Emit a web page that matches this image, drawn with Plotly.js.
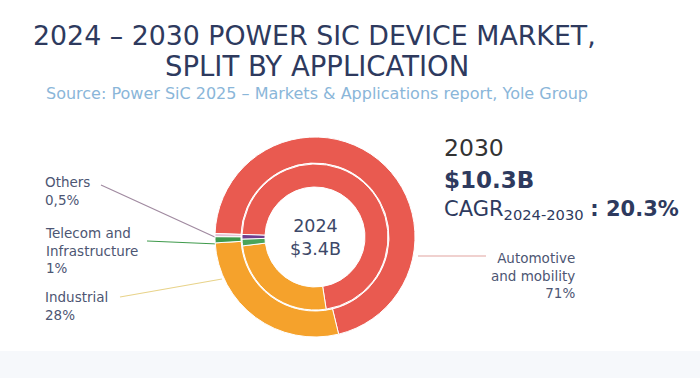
<!DOCTYPE html>
<html><head><meta charset="utf-8">
<script src="https://cdn.plot.ly/plotly-3.0.1.min.js"></script>
<style>html,body{margin:0;padding:0;background:#fff;}</style>
</head><body><div id="chart" style="width:700px;height:378px;"></div>
<script>
var categories = ['Automotive and mobility', 'Industrial', 'Telecom and Infrastructure', 'Others'];
var share2030 = [71, 28, 1, 0.5];
var share2024 = [72, 25.5, 1.5, 1];
var labels2030 = ['Automotive<br>and mobility<br>71%', 'Industrial<br>28%', 'Telecom and<br>Infrastructure<br>1%', 'Others<br>0,5%'];
var outerColors = ['#e95a50', '#f5a22c', '#3f9a4c', '#e4c4d6'];
var innerColors = ['#e95a50', '#f5a22c', '#4aa45a', '#6e3d8e'];

var W = 700, H = 378;
function px(x){return x/W;}
function py(y){return (H-y)/H;}
var cx = 315, cy = 237;

var traces = [
 {type:'pie', values:share2030, labels:categories, sort:false, direction:'clockwise', rotation:-88,
  hole:0.74, textinfo:'none', hoverinfo:'label+percent', showlegend:false,
  marker:{colors:outerColors, line:{color:'#ffffff', width:1}},
  domain:{x:[px(cx-100), px(cx+100)], y:[py(cy+100), py(cy-100)]}},
 {type:'pie', values:share2024, labels:categories, sort:false, direction:'clockwise', rotation:-88,
  hole:0.685, textinfo:'none', hoverinfo:'label+percent', showlegend:false,
  marker:{colors:innerColors, line:{color:'#ffffff', width:1}},
  domain:{x:[px(cx-73), px(cx+73)], y:[py(cy+73), py(cy-73)]}}
];

var navy = '#2e3a5e';
var labelColor = '#4d5673';
var F = 'DejaVu Sans';
function ann(x, y, text, size, color, xanchor, extra){
  var a = {xref:'paper', yref:'paper', x:px(x), y:py(y), text:text, showarrow:false,
    xanchor:xanchor||'center', yanchor:'middle', font:{family:F, size:size, color:color}};
  if(extra){for(var k in extra) a[k]=extra[k];}
  return a;
}
var annotations = [
  ann(314, 35.5, '2024 – 2030 POWER SIC DEVICE MARKET,', 26.8, navy),
  ann(317, 66, 'SPLIT BY APPLICATION', 27.5, navy),
  ann(317, 93.5, 'Source: Power SiC 2025 – Markets &amp; Applications report, Yole Group', 16, '#8ab6d9'),
  ann(315, 237, '2024<br>$3.4B', 17.5, '#3d4868', 'center', {align:'center'}),
  ann(442, 148, '2030', 23.5, '#333333', 'left'),
  ann(442, 180, '<b>$10.3B</b>', 23, navy, 'left'),
  ann(442, 210, 'CAGR<sub>2024-2030</sub> <b>: 20.3%</b>', 21, navy, 'left'),
  ann(43, 191, labels2030[3], 13.5, labelColor, 'left', {align:'left'}),
  ann(43, 250, labels2030[2], 13.5, labelColor, 'left', {align:'left'}),
  ann(43, 306, labels2030[1], 13.5, labelColor, 'left', {align:'left'}),
  ann(577, 275, labels2030[0], 13.5, labelColor, 'right', {align:'right'})
];

function line(x0,y0,x1,y1,color){
  return {type:'line', xref:'paper', yref:'paper', x0:px(x0), y0:py(y0), x1:px(x1), y1:py(y1),
    line:{color:color, width:1.2}, layer:'below'};
}
var shapes = [
  {type:'rect', xref:'paper', yref:'paper', x0:0, x1:1, y0:0, y1:py(351), fillcolor:'#f6f8fb', line:{width:0}, layer:'below'},
  line(101, 185, 217, 238, '#a08aa0'),
  line(147, 241, 218, 244, '#3f9a4c'),
  line(120, 297, 222, 279, '#e8d38a'),
  line(418, 256, 486, 256, '#e2a4a0')
];

var layout = {width:W, height:H, margin:{l:0,r:0,t:0,b:0}, paper_bgcolor:'#ffffff',
  annotations:annotations, shapes:shapes, showlegend:false};
Plotly.newPlot('chart', traces, layout, {displayModeBar:false, staticPlot:true});
</script></body></html>
